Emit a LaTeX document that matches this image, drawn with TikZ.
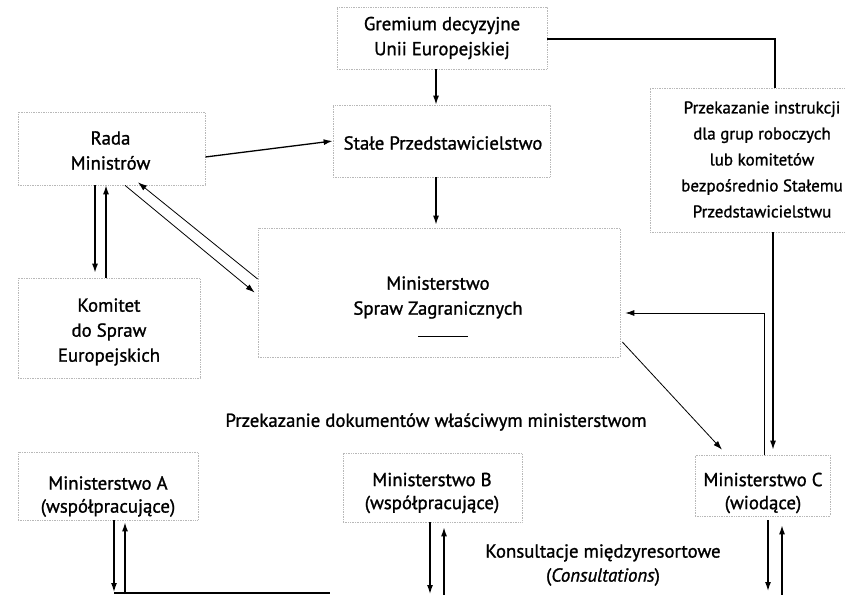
\documentclass[tikz,border=0pt]{standalone}
\usepackage{fontspec}
\setmainfont{PT Sans}[BoldFont={PT Sans}, BoldFeatures={FakeBold=1.2},
  BoldItalicFont={PT Sans Italic}, BoldItalicFeatures={FakeBold=1.2}]
\usetikzlibrary{arrows.meta,calc}

\begin{document}
\begin{tikzpicture}[x=1pt,y=-1pt,
  frame/.style={draw=black!28, densely dotted, line width=0.7pt, inner sep=0pt},
  txt/.style={align=center, inner sep=0pt, font=\fontsize{18.8}{25}\selectfont\bfseries},
  txtm/.style={align=center, inner sep=0pt, font=\fontsize{18.8}{23}\selectfont\bfseries},
  link/.style={line width=1.3pt},
  arr/.style={-{Latex[length=9pt,width=6pt]}, line width=1.3pt},
  arrthin/.style={-{Latex[length=9pt,width=6pt]}, line width=0.8pt}]
\useasboundingbox (0,0) rectangle (845,594);

% boxes
\node[frame, minimum width=210pt, minimum height=62pt] (grem) at (442,38) {};
\node[frame, minimum width=217pt, minimum height=72pt] (stale) at (441.5,141) {};
\node[frame, minimum width=187pt, minimum height=73pt] (rada) at (111.5,148.5) {};
\node[frame, minimum width=182pt, minimum height=100pt] (kom) at (109,328) {};
\node[frame, minimum width=362pt, minimum height=129pt] (msz) at (439,292.5) {};
\node[frame, minimum width=225pt, minimum height=144pt] (przek) at (762.5,160) {};
\node[frame, minimum width=180pt, minimum height=68pt] (minA) at (108,486) {};
\node[frame, minimum width=179pt, minimum height=69pt] (minB) at (432.5,487.5) {};
\node[frame, minimum width=135pt, minimum height=61pt] (minC) at (762.5,485.5) {};

% texts
\node[txt] (gremT) at (442,38) {Gremium decyzyjne\\Unii Europejskiej};
\node[txt] (staleT) at (443,143) {Stałe Przedstawicielstwo};
\node[txt] (radaT) at (110.5,150.5) {Rada\\Ministrów};
\node[txt] (komT) at (109,332) {Komitet\\do Spraw\\Europejskich};
\node[txt] (mszT) at (438,297.5) {Ministerstwo\\Spraw Zagranicznych};
\node[txt, font=\fontsize{17}{26}\selectfont\bfseries] (przekT) at (762,159.5) {Przekazanie instrukcji\\dla grup roboczych\\lub komitetów\\bezpośrednio Stałemu\\Przedstawicielstwu};
\node[txtm] (minAT) at (108,496.5) {Ministerstwo A\\(współpracujące)};
\node[txtm] (minBT) at (432,493) {Ministerstwo B\\(współpracujące)};
\node[txtm] (minCT) at (763,493) {Ministerstwo C\\(wiodące)};
\node[txt] (dokT) at (436,422) {Przekazanie dokumentów właściwym ministerstwom};
\node[txt, font=\fontsize{18.8}{24}\selectfont\bfseries] (konsT) at (603,565) {Konsultacje międzyresortowe\\(\textit{Consultations})};

% short rule inside the foreign-affairs box
\draw[line width=1pt] ($(msz.south)+(-21,-21)$) -- ($(msz.south)+(29,-21)$);

% free ends at the lower edge
\coordinate (botA1) at (114,592);
\coordinate (botA2) at (125,594);
\coordinate (botB1) at (430,594);
\coordinate (botB2) at (444,596);
\coordinate (botC1) at (768,591);
\coordinate (botC2) at (782,596);
\coordinate (consEnd) at (330,593);

% connectors
\draw[arr] ([xshift=-6pt]grem.south) -- ([xshift=-5.5pt]stale.north);
\draw[arr] ([yshift=-8.5pt]rada.east) -- (stale.west);
\draw[arr] ([xshift=-5.5pt]stale.south) -- ([xshift=-3pt,yshift=3pt]msz.north);
\draw[link] ([yshift=-1pt]grem.east) -| ([xshift=12.5pt]przek.north);
\draw[arr] ([xshift=-16.5pt]rada.south) -- ([xshift=-14pt,yshift=5pt]kom.north);
\draw[arr] ([xshift=-3pt]kom.north) -- ([xshift=-5.5pt]rada.south);
\draw[arrthin] ([xshift=13.5pt]rada.south) -- ([xshift=-3pt]msz.west);
\draw[arrthin] ([yshift=13.5pt]msz.west) -- ([xshift=26.5pt,yshift=3pt]rada.south);
\draw[arr] ([xshift=10.5pt]przek.south) -- ([xshift=10.5pt,yshift=5pt]minC.north);
\draw[arrthin] ([xshift=1.5pt]minC.north) |- ([yshift=-20.5pt,xshift=5pt]msz.east);
\draw[arrthin] ([yshift=-49.5pt,xshift=2pt]msz.east) -- ([xshift=-40.5pt,yshift=5pt]minC.north);
\draw[arr] ([xshift=6pt]minA.south) -- (botA1);
\draw[arr] (botA2) -- ([xshift=17pt,yshift=-2pt]minA.south);
\draw[link] (botA1|-consEnd) -- (consEnd);
\draw[arr] ([xshift=-2.5pt]minB.south) -- (botB1);
\draw[arr] (botB2) -- ([xshift=11.5pt,yshift=-5pt]minB.south);
\draw[arr] ([xshift=5.5pt,yshift=-4pt]minC.south) -- (botC1);
\draw[arr] (botC2) -- ([xshift=19.5pt,yshift=-9pt]minC.south);
\end{tikzpicture}
\end{document}
